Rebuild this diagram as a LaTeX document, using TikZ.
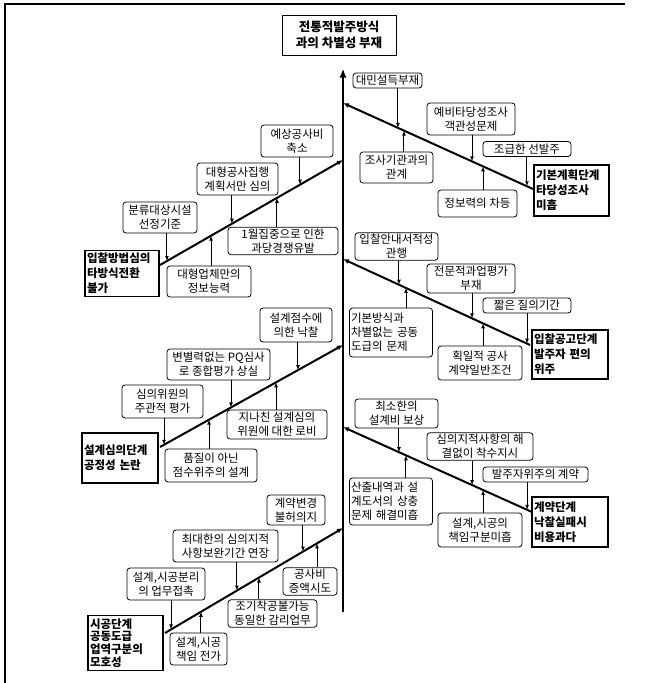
\documentclass[tikz,border=0pt]{standalone}
\usepackage{fontspec}
\setmainfont{Noto Sans CJK KR}
\usepackage{tikz}
\usetikzlibrary{arrows.meta, calc}
\tikzset{
  cause/.style={rectangle, draw=black, fill=white, rounded corners=3pt,
    align=center, inner sep=1.5pt, line width=0.8pt,
    font=\fontsize{11.5}{14}\selectfont},
  effect/.style={rectangle, draw=black, fill=white, text width=#1,
    align=left, inner xsep=2pt, inner ysep=3pt, line width=1.1pt,
    font=\bfseries\fontsize{11.5}{15}\selectfont},
  goalbox/.style={rectangle, draw=black, fill=white, align=center,
    inner sep=2pt, line width=1pt,
    font=\bfseries\fontsize{12.5}{16}\selectfont},
  spine/.style={-{Latex[length=9pt, width=7pt]}, line width=2.6pt},
  branch/.style={-{Latex[length=6pt, width=5pt]}, line width=2pt},
  arrow/.style={-{Latex[length=5pt, width=4pt]}, line width=1pt}
}

\begin{document}
\begin{tikzpicture}[x=1pt, y=-1pt]
  \useasboundingbox (0,0) rectangle (652,683);
  % frame
  \draw[line width=1.2pt] (5,683) -- (5,4) -- (625,4);
  % spine
  \node[goalbox, minimum width=114, minimum height=40] (goal) at (339,35) {전통적발주방식\\과의 차별성 부재};
  \coordinate (sb) at (343,612);
  \draw[spine, shorten >=13pt] (sb) -- (sb |- goal.south);

  % R1: 기본계획단계
  \coordinate (r1s) at (533,189);
  \coordinate (r1e) at (343,103);
  \draw[branch] (r1s) -- (r1e);
  \node[effect=71, minimum height=51] (r1res) at (571.5,190.5) {기본계획단계\\타당성조사\\미흡};
  \node[cause, minimum width=69, minimum height=15] (r1a) at (387.5,80.5) {대민설득부재};
  \node[cause, minimum width=88, minimum height=32] (r1b) at (471,119) {예비타당성조사\\객관성문제};
  \node[cause, minimum width=88, minimum height=15] (r1c) at (527,149) {조급한 선발주};
  \node[cause, minimum width=73, minimum height=31] (r1d) at (396.5,167.5) {조사기관과의\\관계};
  \node[cause, minimum width=79, minimum height=27] (r1f) at (477.5,203.5) {정보력의 차등};
  \coordinate (r1pa) at ($(r1e)!0.289!(r1s)$);
  \coordinate (r1pb) at ($(r1e)!0.679!(r1s)$);
  \coordinate (r1pc) at ($(r1e)!0.968!(r1s)$);
  \coordinate (r1pd) at ($(r1e)!0.321!(r1s)$);
  \coordinate (r1pf) at ($(r1e)!0.737!(r1s)$);
  \draw[arrow] (r1a.south -| r1pa) -- (r1pa);
  \draw[arrow] (r1b.south -| r1pb) -- (r1pb);
  \draw[arrow] (r1c.south -| r1pc) -- (r1pc);
  \draw[arrow] (r1d.north -| r1pd) -- (r1pd);
  \draw[arrow] (r1f.north -| r1pf) -- (r1pf);

  % L1: 입찰방법심의
  \coordinate (l1s) at (160,265);
  \coordinate (l1e) at (343,160);
  \draw[branch] (l1s) -- (l1e);
  \node[effect=70, minimum height=43] (l1res) at (122,273.5) {입찰방법심의\\타방식전환\\불가};
  \node[cause, minimum width=72, minimum height=32] (l1a) at (297,141) {예상공사비\\축소};
  \node[cause, minimum width=81, minimum height=32] (l1b) at (237.5,179) {대형공사집행\\계획서만 심의};
  \node[cause, minimum width=74, minimum height=31] (l1c) at (160,217.5) {분류대상시설\\선정기준};
  \node[cause, minimum width=110, minimum height=26] (l1d) at (283,241) {1월집중으로 인한\\과당경쟁유발};
  \node[cause, minimum width=84, minimum height=31] (l1f) at (209,281.5) {대형업체만의\\정보능력};
  \coordinate (l1pa) at ($(l1e)!0.235!(l1s)$);
  \coordinate (l1pb) at ($(l1e)!0.607!(l1s)$);
  \coordinate (l1pc) at ($(l1e)!0.962!(l1s)$);
  \coordinate (l1pd) at ($(l1e)!0.361!(l1s)$);
  \coordinate (l1pf) at ($(l1e)!0.721!(l1s)$);
  \draw[arrow] (l1a.south -| l1pa) -- (l1pa);
  \draw[arrow] (l1b.south -| l1pb) -- (l1pb);
  \draw[arrow] (l1c.south -| l1pc) -- (l1pc);
  \draw[arrow] (l1d.north -| l1pd) -- (l1pd);
  \draw[arrow] (l1f.north -| l1pf) -- (l1pf);

  % R2: 입찰공고단계
  \coordinate (r2s) at (530,345);
  \coordinate (r2e) at (343,259);
  \draw[branch] (r2s) -- (r2e);
  \node[effect=72, minimum height=49] (r2res) at (570,354.5) {입찰공고단계\\발주자 편의\\위주};
  \node[cause, minimum width=83, minimum height=27] (r2a) at (396.5,246.5) {입찰안내서적성\\관행};
  \node[cause, minimum width=88, minimum height=29] (r2b) at (471,278.5) {전문적과업평가\\부재};
  \node[cause, minimum width=88, minimum height=15] (r2c) at (527,305.5) {짧은 질의기간};
  \node[cause, align=left, text width=80, minimum height=49] (r2d) at (391,332.5) {기본방식과\\차별없는 공동\\도급의 문제};
  \node[cause, minimum width=84, minimum height=34] (r2f) at (480,363) {획일적 공사\\계약일반조건};
  \coordinate (r2pa) at ($(r2e)!0.299!(r2s)$);
  \coordinate (r2pb) at ($(r2e)!0.690!(r2s)$);
  \coordinate (r2pc) at ($(r2e)!0.984!(r2s)$);
  \coordinate (r2pd) at ($(r2e)!0.337!(r2s)$);
  \coordinate (r2pf) at ($(r2e)!0.749!(r2s)$);
  \draw[arrow] (r2a.south -| r2pa) -- (r2pa);
  \draw[arrow] (r2b.south -| r2pb) -- (r2pb);
  \draw[arrow] (r2c.south -| r2pc) -- (r2pc);
  \draw[arrow] (r2d.north -| r2pd) -- (r2pd);
  \draw[arrow] (r2f.north -| r2pf) -- (r2pf);

  % L2: 설계심의단계
  \coordinate (l2s) at (160,447);
  \coordinate (l2e) at (343,345);
  \draw[branch] (l2s) -- (l2e);
  \node[effect=72, minimum height=50] (l2res) at (120,458) {설계심의단계\\공정성 논란};
  \node[cause, minimum width=72, minimum height=34] (l2a) at (296,325) {설계점수에\\의한 낙찰};
  \node[cause, minimum width=103, minimum height=31] (l2b) at (218.5,364.5) {변별력없는 PQ심사\\로 종합평가 상실};
  \node[cause, minimum width=81, minimum height=33] (l2c) at (162.5,401.5) {심의위원의\\주관적 평가};
  \node[cause, minimum width=100, minimum height=29] (l2d) at (277,424.5) {지나친 설계심의\\위원에 대한 로비};
  \node[cause, minimum width=92, minimum height=33] (l2f) at (211,465.5) {품질이 아닌\\점수위주의 설계};
  \coordinate (l2pa) at ($(l2e)!0.246!(l2s)$);
  \coordinate (l2pb) at ($(l2e)!0.612!(l2s)$);
  \coordinate (l2pc) at ($(l2e)!0.978!(l2s)$);
  \coordinate (l2pd) at ($(l2e)!0.366!(l2s)$);
  \coordinate (l2pf) at ($(l2e)!0.732!(l2s)$);
  \draw[arrow] (l2a.south -| l2pa) -- (l2pa);
  \draw[arrow] (l2b.south -| l2pb) -- (l2pb);
  \draw[arrow] (l2c.south -| l2pc) -- (l2pc);
  \draw[arrow] (l2d.north -| l2pd) -- (l2pd);
  \draw[arrow] (l2f.north -| l2pf) -- (l2pf);

  % R3: 계약단계
  \coordinate (r3s) at (532,512);
  \coordinate (r3e) at (343,427);
  \draw[branch] (r3s) -- (r3e);
  \node[effect=72, minimum height=50] (r3res) at (570,522) {계약단계\\낙찰실패시\\비용과다};
  \node[cause, minimum width=83, minimum height=29] (r3a) at (396.5,413.5) {최소한의\\설계비 보상};
  \node[cause, minimum width=106, minimum height=27] (r3b) at (480,446.5) {심의지적사항의 해\\결없이 착수지시};
  \node[cause, minimum width=105, minimum height=15] (r3c) at (535.5,474.5) {발주자위주의 계약};
  \node[cause, align=left, text width=80, minimum height=47] (r3d) at (391,501.5) {산출내역과 설\\계도서의 상충\\문제 해결미흡};
  \node[cause, minimum width=84, minimum height=34] (r3f) at (480,530) {설계,시공의\\책임구분미흡};
  \coordinate (r3pa) at ($(r3e)!0.296!(r3s)$);
  \coordinate (r3pb) at ($(r3e)!0.683!(r3s)$);
  \coordinate (r3pc) at ($(r3e)!0.974!(r3s)$);
  \coordinate (r3pd) at ($(r3e)!0.333!(r3s)$);
  \coordinate (r3pf) at ($(r3e)!0.741!(r3s)$);
  \draw[arrow] (r3a.south -| r3pa) -- (r3pa);
  \draw[arrow] (r3b.south -| r3pb) -- (r3pb);
  \draw[arrow] (r3c.south -| r3pc) -- (r3pc);
  \draw[arrow] (r3d.north -| r3pd) -- (r3pd);
  \draw[arrow] (r3f.north -| r3pf) -- (r3pf);

  % L3: 시공단계
  \coordinate (l3s) at (165,633);
  \coordinate (l3e) at (343,528);
  \draw[branch] (l3s) -- (l3e);
  \node[effect=71, minimum height=54, font=\bfseries\fontsize{11.5}{12.8}\selectfont] (l3res) at (125.5,643) {시공단계\\공동도급\\업역구분의\\모호성};
  \node[cause, minimum width=58, minimum height=30] (l3a) at (296,510) {계약변경\\불허의지};
  \node[cause, minimum width=105, minimum height=32] (l3b) at (225.5,546) {최대한의 심의지적\\사항보완기간 연장};
  \node[cause, minimum width=78, minimum height=32] (l3c) at (166,584) {설계,시공분리\\의 업무접촉};
  \node[cause, minimum width=54, minimum height=27] (l3d) at (310,581.5) {공사비\\증액시도};
  \node[cause, minimum width=89, minimum height=27] (l3f) at (272.5,613.5) {조기착공불가능\\동일한 감리업무};
  \node[cause, minimum width=57, minimum height=32] (l3g) at (198.5,649) {설계,시공\\책임 전가};
  \coordinate (l3pa) at ($(l3e)!0.225!(l3s)$);
  \coordinate (l3pb) at ($(l3e)!0.596!(l3s)$);
  \coordinate (l3pc) at ($(l3e)!0.966!(l3s)$);
  \coordinate (l3pd) at ($(l3e)!0.146!(l3s)$);
  \coordinate (l3pf) at ($(l3e)!0.472!(l3s)$);
  \coordinate (l3pg) at ($(l3e)!0.798!(l3s)$);
  \draw[arrow] (l3a.south -| l3pa) -- (l3pa);
  \draw[arrow] (l3b.south -| l3pb) -- (l3pb);
  \draw[arrow] (l3c.south -| l3pc) -- (l3pc);
  \draw[arrow] (l3d.north -| l3pd) -- (l3pd);
  \draw[arrow] (l3f.north -| l3pf) -- (l3pf);
  \draw[arrow] (l3g.north -| l3pg) -- (l3pg);
\end{tikzpicture}
\end{document}
